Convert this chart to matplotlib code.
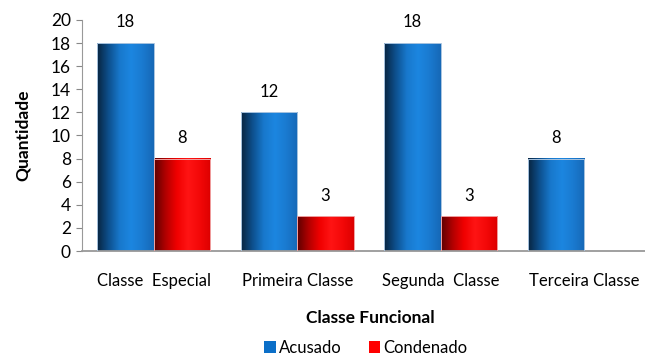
import numpy as np
import matplotlib.pyplot as plt
from matplotlib.colors import LinearSegmentedColormap
from matplotlib.patches import Rectangle

plt.rcParams['font.family'] = ['Lato', 'DejaVu Sans']

categorias = ["Classe  Especial", "Primeira Classe", "Segunda  Classe", "Terceira Classe"]
acusado = [18, 12, 18, 8]
condenado = [8, 3, 3, 0]

# shaded "cylinder" look for each series
cmap_azul = LinearSegmentedColormap.from_list(
    "azul", ["#08243f", "#0d4f8c", "#1878cc", "#1c86e0", "#1a7ad0", "#1668b6"])
cmap_verm = LinearSegmentedColormap.from_list(
    "verm", ["#5c0000", "#b00000", "#f00000", "#ff1414", "#f40808", "#dc0000"])

fig = plt.figure(figsize=(6.45, 3.57), dpi=100)
ax = fig.add_axes([82 / 645, 1 - 251 / 357, 574 / 645, 231 / 357])

x = np.arange(len(categorias))
largura = 0.395
grad = np.linspace(0, 1, 256).reshape(1, -1)


def barra_gradiente(x0, h, cmap, borda):
    if h <= 0:
        return
    ax.imshow(grad, cmap=cmap, aspect='auto', extent=(x0, x0 + largura, 0, h),
              interpolation='bilinear', zorder=2)
    ax.add_patch(Rectangle((x0, 0), largura, h, fill=False, ec=borda,
                           lw=0.7, zorder=3))


for i in range(len(categorias)):
    barra_gradiente(x[i] - largura, acusado[i], cmap_azul, "#a8c4e0")
    barra_gradiente(x[i], condenado[i], cmap_verm, "#f0a0a0")
    ax.text(x[i] - largura / 2, acusado[i] + 1.8, str(acusado[i]),
            ha='center', va='center', fontsize=12)
    if condenado[i] > 0:
        ax.text(x[i] + largura / 2, condenado[i] + 1.8, str(condenado[i]),
                ha='center', va='center', fontsize=12)

ax.set_xlim(-0.5, 3.5)
ax.set_ylim(0, 20)
ax.set_yticks(range(0, 21, 2))
ax.set_xticks(x)
ax.set_xticklabels(categorias, fontsize=12)
ax.tick_params(axis='y', labelsize=12.5, length=4, color="#888888", pad=4)
ax.tick_params(axis='x', length=0, pad=16)
for lado in ['top', 'right']:
    ax.spines[lado].set_visible(False)
ax.spines['left'].set_color("#999999")
ax.spines['bottom'].set_color("#999999")
ax.spines['bottom'].set_linewidth(1.3)

ax.set_ylabel("Quantidade", fontsize=12.5, fontweight='bold', labelpad=14)
fig.text(370 / 645, 1 - 318 / 357, "Classe Funcional", ha='center', va='center',
         fontsize=12.5, fontweight='bold')

h1 = Rectangle((0, 0), 1, 1, fc="#0b6fc8")
h2 = Rectangle((0, 0), 1, 1, fc="#ff0000")
fig.legend([h1, h2], ["Acusado", "Condenado"], loc='center',
           bbox_to_anchor=(366 / 645, 1 - 348 / 357), ncol=2, frameon=False,
           fontsize=12, handlelength=0.7, handleheight=0.7, handletextpad=0.2,
           columnspacing=1.6, borderpad=0)

fig.savefig("out.png", dpi=100)
